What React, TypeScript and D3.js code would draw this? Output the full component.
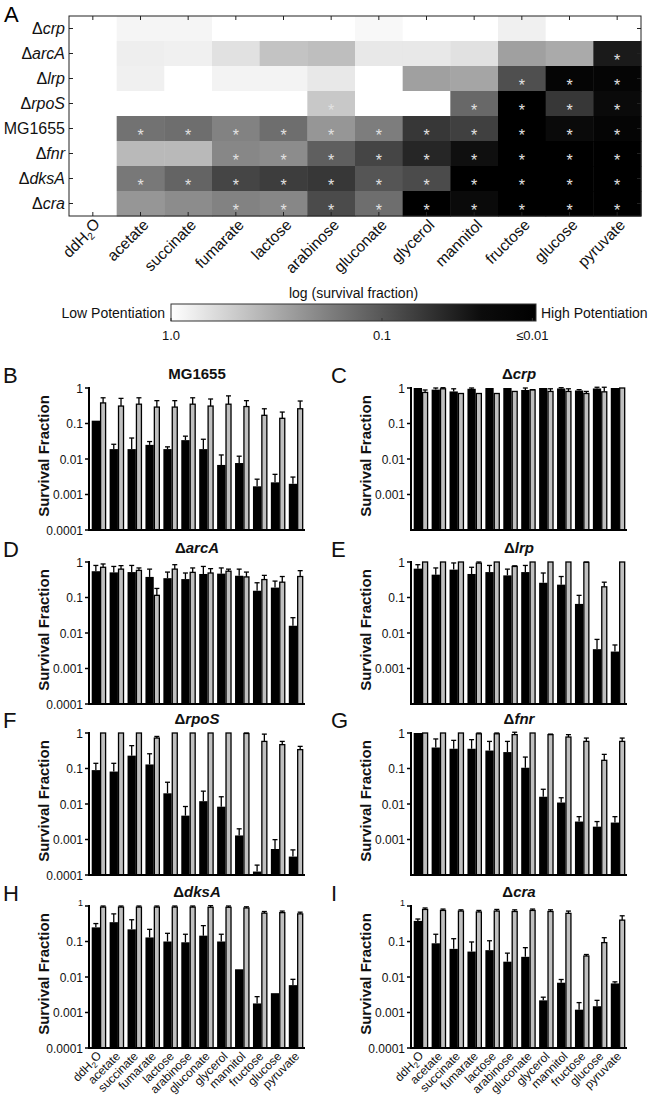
import React from "react";
import * as d3 from "d3";

const FONT = "'Liberation Sans', Arial, Helvetica, sans-serif";

const carbonSources = ["ddH2O", "acetate", "succinate", "fumarate", "lactose", "arabinose", "gluconate", "glycerol", "mannitol", "fructose", "glucose", "pyruvate"];
const strains = ["Δcrp", "ΔarcA", "Δlrp", "ΔrpoS", "MG1655", "Δfnr", "ΔdksA", "Δcra"];

// heatmap: survival fraction per strain (row) and carbon source (column)
const heatCrp = [1, 0.835, 0.835, 1, 1, 1, 0.88, 1, 1, 0.76, 1, 1];
const heatArcA = [1, 0.736, 0.76, 0.58, 0.34, 0.31, 0.66, 0.66, 0.58, 0.18, 0.215, 0.016];
const heatLrp = [1, 0.76, 1, 0.805, 0.805, 0.66, 1, 0.18, 0.197, 0.042, 0.011, 0.011];
const heatRpoS = [1, 1, 1, 1, 1, 0.37, 1, 1, 0.066, 0.01, 0.027, 0.012];
const heatMG = [1, 0.079, 0.073, 0.105, 0.073, 0.15, 0.095, 0.027, 0.032, 0.01, 0.012, 0.011];
const heatFnr = [1, 0.28, 0.28, 0.115, 0.125, 0.056, 0.035, 0.02, 0.013, 0.01, 0.01, 0.01];
const heatDksA = [1, 0.087, 0.061, 0.035, 0.03, 0.027, 0.046, 0.039, 0.01, 0.01, 0.01, 0.01];
const heatCra = [1, 0.15, 0.125, 0.105, 0.115, 0.039, 0.073, 0.01, 0.012, 0.01, 0.01, 0.01];

// significance stars (1 = star)
const starCrp = [0, 0, 0, 0, 0, 0, 0, 0, 0, 0, 0, 0];
const starArcA = [0, 0, 0, 0, 0, 0, 0, 0, 0, 0, 0, 1];
const starLrp = [0, 0, 0, 0, 0, 0, 0, 0, 0, 1, 1, 1];
const starRpoS = [0, 0, 0, 0, 0, 1, 0, 0, 1, 1, 1, 1];
const starMG = [0, 1, 1, 1, 1, 1, 1, 1, 1, 1, 1, 1];
const starFnr = [0, 0, 0, 1, 1, 1, 1, 1, 1, 1, 1, 1];
const starDksA = [0, 1, 1, 1, 1, 1, 1, 1, 1, 1, 1, 1];
const starCra = [0, 0, 0, 1, 1, 1, 1, 1, 1, 1, 1, 1];

const heatRows = [heatCrp, heatArcA, heatLrp, heatRpoS, heatMG, heatFnr, heatDksA, heatCra];
const starRows = [starCrp, starArcA, starLrp, starRpoS, starMG, starFnr, starDksA, starCra];

const colorbarTicks = [1, 0.1, 0.01];
const colorbarTickLabels = ["1.0", "0.1", "≤0.01"];

const yTicks = [1, 0.1, 0.01, 0.001, 0.0001];
const yTickLabels = ["1", "0.1", "0.01", "0.001", "0.0001"];

// bar panels: black = treated, gray = control (value and upper error)
const mgBlack = [0.12, 0.019, 0.019, 0.025, 0.019, 0.034, 0.019, 0.0068, 0.0077, 0.0017, 0.0022, 0.002];
const mgBlackErr = [0.12, 0.026, 0.039, 0.031, 0.022, 0.044, 0.036, 0.013, 0.012, 0.0027, 0.0037, 0.0031];
const mgGray = [0.38, 0.31, 0.35, 0.29, 0.29, 0.35, 0.31, 0.35, 0.3, 0.17, 0.14, 0.26];
const mgGrayErr = [0.53, 0.51, 0.53, 0.44, 0.44, 0.53, 0.49, 0.6, 0.44, 0.26, 0.21, 0.43];

const crpBlack = [1.0, 0.9, 0.8, 0.95, 1.0, 1.0, 0.88, 1.0, 0.97, 0.85, 0.97, 1.0];
const crpBlackErr = [1.0, 1.0, 0.95, 1.0, 1.0, 1.0, 1.0, 1.0, 1.02, 0.9, 1.05, 1.0];
const crpGray = [0.75, 0.95, 0.7, 0.7, 0.7, 0.8, 0.88, 0.8, 0.8, 0.7, 0.78, 1.0];
const crpGrayErr = [0.88, 1.02, 0.7, 0.7, 0.7, 0.8, 0.9, 0.95, 0.95, 0.8, 1.05, 1.0];

const arcBlack = [0.55, 0.51, 0.52, 0.38, 0.35, 0.33, 0.46, 0.47, 0.41, 0.155, 0.19, 0.016];
const arcBlackErr = [0.8, 0.75, 0.8, 0.63, 0.52, 0.49, 0.75, 0.68, 0.63, 0.26, 0.29, 0.027];
const arcGray = [0.71, 0.63, 0.58, 0.115, 0.63, 0.51, 0.49, 0.55, 0.38, 0.32, 0.27, 0.39];
const arcGrayErr = [0.88, 0.79, 0.68, 0.18, 0.84, 0.68, 0.65, 0.63, 0.52, 0.42, 0.39, 0.57];

const lrpBlack = [0.65, 0.44, 0.61, 0.46, 0.52, 0.42, 0.52, 0.26, 0.23, 0.066, 0.0035, 0.003];
const lrpBlackErr = [0.84, 0.68, 0.94, 0.71, 0.8, 0.63, 0.8, 0.49, 0.39, 0.115, 0.0066, 0.0046];
const lrpGray = [1, 1, 1, 0.93, 1, 0.75, 1, 1, 1, 0.98, 0.2, 1];
const lrpGrayErr = [1, 1, 1, 1, 1, 0.78, 1, 1, 1, 1, 0.27, 1];

const rpoBlack = [0.09, 0.082, 0.23, 0.13, 0.02, 0.0047, 0.012, 0.0084, 0.0013, 0.000125, 0.00054, 0.00033];
const rpoBlackErr = [0.14, 0.14, 0.44, 0.26, 0.041, 0.0085, 0.023, 0.016, 0.002, 0.00019, 0.00099, 0.00051];
const rpoGray = [1, 1, 1, 0.72, 1, 1, 1, 1, 0.97, 0.58, 0.47, 0.34];
const rpoGrayErr = [1, 1, 1, 0.8, 1, 1, 1, 1, 1, 0.93, 0.58, 0.42];

const fnrBlack = [1.0, 0.39, 0.36, 0.36, 0.32, 0.29, 0.105, 0.016, 0.011, 0.0032, 0.0023, 0.003];
const fnrBlackErr = [1.0, 0.68, 0.62, 0.65, 0.58, 0.58, 0.21, 0.026, 0.015, 0.0044, 0.0032, 0.0044];
const fnrGray = [1, 1, 1, 0.95, 0.95, 0.9, 1, 0.9, 0.77, 0.58, 0.17, 0.58];
const fnrGrayErr = [1, 1, 1, 1, 1, 1.05, 1, 0.93, 0.9, 0.72, 0.25, 0.72];

const dksBlack = [0.25, 0.35, 0.22, 0.13, 0.1, 0.095, 0.146, 0.1, 0.0165, 0.0018, 0.0035, 0.0059];
const dksBlackErr = [0.32, 0.6, 0.41, 0.22, 0.17, 0.16, 0.28, 0.16, 0.0165, 0.0028, 0.0035, 0.0086];
const dksGray = [0.93, 0.93, 0.93, 0.93, 0.93, 0.93, 0.92, 0.92, 0.88, 0.63, 0.65, 0.6];
const dksGrayErr = [1, 1, 1, 1, 1, 1, 1.02, 1, 0.95, 0.7, 0.72, 0.67];

const craBlack = [0.38, 0.089, 0.062, 0.052, 0.057, 0.027, 0.037, 0.0022, 0.0069, 0.0012, 0.0015, 0.0066];
const craBlackErr = [0.43, 0.16, 0.12, 0.097, 0.105, 0.047, 0.067, 0.0027, 0.0085, 0.0019, 0.0022, 0.0073];
const craGray = [0.8, 0.75, 0.72, 0.68, 0.72, 0.7, 0.75, 0.7, 0.62, 0.039, 0.093, 0.4];
const craGrayErr = [0.88, 0.82, 0.78, 0.75, 0.8, 0.78, 0.82, 0.78, 0.72, 0.043, 0.128, 0.53];

function StrainName({ name }: { name: string }) {
  if (name.startsWith("Δ")) {
    return (
      <>
        <tspan>Δ</tspan>
        <tspan fontStyle="italic">{name.slice(1)}</tspan>
      </>
    );
  }
  return <tspan>{name}</tspan>;
}

function SourceName({ name, sub }: { name: string; sub: number }) {
  if (name === "ddH2O") {
    return (
      <>
        <tspan>ddH</tspan>
        <tspan fontSize={sub} dy="0.3em">2</tspan>
        <tspan dy="-0.3em">O</tspan>
      </>
    );
  }
  return <tspan>{name}</tspan>;
}

function Heatmap() {
  const x0 = 69, x1 = 641, y0 = 16, y1 = 216;
  const hx = d3.scaleBand<string>().domain(carbonSources).range([x0, x1]);
  const hy = d3.scaleBand<string>().domain(strains).range([y0, y1]);
  const t = d3.scaleLog().domain([1, 0.01]).range([0, 1]).clamp(true);
  const color = (v: number) => d3.interpolateRgb("#ffffff", "#000000")(t(v));
  const bw = hx.bandwidth(), bh = hy.bandwidth();
  return (
    <g>
      <text x={4} y={22} fontSize={22} fontFamily={FONT}>A</text>
      {strains.map((s, i) =>
        carbonSources.map((c, j) => (
          <rect key={s + c} x={hx(c)!} y={hy(s)!} width={bw + 0.5} height={bh + 0.5} fill={color(heatRows[i][j])} />
        ))
      )}
      {strains.map((s, i) =>
        carbonSources.map((c, j) =>
          starRows[i][j] ? (
            <text key={"s" + s + c} x={hx(c)! + bw / 2} y={hy(s)! + bh / 2 + 12} textAnchor="middle" fontSize={16} fill="#e2e2e2" fontFamily={FONT}>*</text>
          ) : null
        )
      )}
      <rect x={x0} y={y0} width={x1 - x0} height={y1 - y0} fill="none" stroke="#222" strokeWidth={1} />
      {carbonSources.map((c) => {
        const cx = hx(c)! + bw / 2;
        return (
          <g key={"t" + c}>
            <line x1={cx} x2={cx} y1={y0} y2={y0 + 4} stroke="#222" />
            <line x1={cx} x2={cx} y1={y1} y2={y1 - 4} stroke="#222" />
            <text transform={`translate(${cx + 9},${y1 + 10}) rotate(-45)`} textAnchor="end" fontSize={15.5} fontFamily={FONT} fill="#111">
              <SourceName name={c} sub={10} />
            </text>
          </g>
        );
      })}
      {strains.map((s) => {
        const cy = hy(s)! + bh / 2;
        return (
          <g key={"r" + s}>
            <line x1={x0} x2={x0 + 4} y1={cy} y2={cy} stroke="#222" />
            <line x1={x1} x2={x1 - 4} y1={cy} y2={cy} stroke="#222" />
            <text x={x0 - 4} y={cy + 5.5} textAnchor="end" fontSize={16} fontFamily={FONT} fill="#111">
              <StrainName name={s} />
            </text>
          </g>
        );
      })}
    </g>
  );
}

function Colorbar() {
  const cx0 = 171, cx1 = 536, cy0 = 304, cy1 = 321;
  const pos = d3.scaleLinear().domain([0, 1]).range([cx0, cx1]);
  const tickPos = [0, 0.578, 0.99];
  return (
    <g fontFamily={FONT}>
      <defs>
        <linearGradient id="cbar" x1="0" x2="1" y1="0" y2="0">
          <stop offset="0" stopColor="#ffffff" />
          <stop offset="0.45" stopColor="#7a7a7a" />
          <stop offset="0.85" stopColor="#0c0c0c" />
          <stop offset="1" stopColor="#000000" />
        </linearGradient>
      </defs>
      <text x={(cx0 + cx1) / 2} y={298} textAnchor="middle" fontSize={14} fill="#111">log (survival fraction)</text>
      <rect x={cx0} y={cy0} width={cx1 - cx0} height={cy1 - cy0} fill="url(#cbar)" stroke="#333" strokeWidth={1} />
      <text x={cx0 - 6} y={318} textAnchor="end" fontSize={14} fill="#111">Low Potentiation</text>
      <text x={cx1 + 5} y={318} textAnchor="start" fontSize={14} fill="#111">High Potentiation</text>
      {colorbarTicks.map((v, i) => (
        <g key={v}>
          <line x1={pos(tickPos[i])} x2={pos(tickPos[i])} y1={cy1} y2={cy1 - 3} stroke="#333" />
          <text x={pos(tickPos[i])} y={340} textAnchor="middle" fontSize={13} fill="#111">{colorbarTickLabels[i]}</text>
        </g>
      ))}
    </g>
  );
}

type PanelProps = {
  x0: number; x1: number; yTop: number; letter: string; letterX: number; title: string;
  black: number[]; blackErr: number[]; gray: number[]; grayErr: number[];
  xLabels?: boolean; smallOne?: boolean; showBottom?: boolean; labelX: number;
};

function BarPanel(p: PanelProps) {
  const yb = p.yTop + 142;
  const y = d3.scaleLog().domain([1e-4, 1]).range([yb, p.yTop]);
  const x = d3.scaleBand<string>().domain(carbonSources).range([p.x0 + 1, p.x1]);
  const bwB = 8.3, bwG = 5;
  const cap = 2.5;
  return (
    <g fontFamily={FONT}>
      <text x={p.letterX} y={p.yTop - 5} fontSize={22} fill="#111">{p.letter}</text>
      <text x={(p.x0 + p.x1) / 2} y={p.yTop - 9} textAnchor="middle" fontSize={15} fontWeight="bold" fill="#111">
        <StrainName name={p.title} />
      </text>
      <text transform={`translate(${p.labelX},${p.yTop + 68}) rotate(-90)`} textAnchor="middle" fontSize={15} fontWeight="bold" fill="#111">Survival Fraction</text>
      {carbonSources.map((c, i) => {
        const bx = x(c)! + 1.7;
        const gx = x(c)! + 10.6;
        const vb = p.black[i], eb = p.blackErr[i], vg = p.gray[i], eg = p.grayErr[i];
        const bcx = bx + bwB / 2, gcx = gx + bwG / 2;
        return (
          <g key={c}>
            {eb > vb && (
              <g stroke="#000" strokeWidth={1.3}>
                <line x1={bcx} x2={bcx} y1={y(vb)} y2={y(eb)} />
                <line x1={bcx - cap} x2={bcx + cap} y1={y(eb)} y2={y(eb)} />
              </g>
            )}
            <rect x={bx} y={y(vb)} width={bwB} height={yb - y(vb)} fill="#000" />
            {eg > vg && (
              <g stroke="#000" strokeWidth={1.3}>
                <line x1={gcx} x2={gcx} y1={y(vg)} y2={y(eg)} />
                <line x1={gcx - cap} x2={gcx + cap} y1={y(eg)} y2={y(eg)} />
              </g>
            )}
            <rect x={gx} y={y(vg)} width={bwG} height={yb - y(vg)} fill="#bfbfbf" stroke="#000" strokeWidth={1.3} />
            {p.xLabels && (
              <text transform={`translate(${x(c)! + x.bandwidth() / 2 + 4},${yb + 9}) rotate(-45)`} textAnchor="end" fontSize={12} fill="#111">
                <SourceName name={c} sub={8} />
              </text>
            )}
          </g>
        );
      })}
      <line x1={p.x0} x2={p.x0} y1={p.yTop - 1} y2={yb + 1} stroke="#000" strokeWidth={2} />
      <line x1={p.x0 - 1} x2={p.x1} y1={yb} y2={yb} stroke="#000" strokeWidth={2} />
      {yTicks.map((v, i) => {
        if (v === 1e-4 && p.showBottom === false) return null;
        const small = v === 1 && p.smallOne;
        return (
          <g key={v}>
            <line x1={p.x0 - 4} x2={p.x0} y1={y(v)} y2={y(v)} stroke="#000" strokeWidth={1.5} />
            <text x={p.x0 - 6} y={y(v) + (small ? 0 : 4.5)} textAnchor="end" fontSize={small ? 9 : 12} fill="#111">{yTickLabels[i]}</text>
          </g>
        );
      })}
    </g>
  );
}

export default function App() {
  const L = { x0: 89, x1: 305, letterX: 3, labelX: 49 };
  const R = { x0: 411, x1: 627, letterX: 331, labelX: 371 };
  return (
    <svg width={650} height={1099} style={{ position: "absolute", left: 0, top: 0, background: "#fff" }} fontFamily={FONT}>
      <rect width={650} height={1099} fill="#fff" />
      <Heatmap />
      <Colorbar />
      <BarPanel {...L} yTop={388} letter="B" title="MG1655" black={mgBlack} blackErr={mgBlackErr} gray={mgGray} grayErr={mgGrayErr} />
      <BarPanel {...R} yTop={388} letter="C" title="Δcrp" black={crpBlack} blackErr={crpBlackErr} gray={crpGray} grayErr={crpGrayErr} showBottom={false} />
      <BarPanel {...L} yTop={562} letter="D" title="ΔarcA" black={arcBlack} blackErr={arcBlackErr} gray={arcGray} grayErr={arcGrayErr} />
      <BarPanel {...R} yTop={562} letter="E" title="Δlrp" black={lrpBlack} blackErr={lrpBlackErr} gray={lrpGray} grayErr={lrpGrayErr} showBottom={false} />
      <BarPanel {...L} yTop={733} letter="F" title="ΔrpoS" black={rpoBlack} blackErr={rpoBlackErr} gray={rpoGray} grayErr={rpoGrayErr} />
      <BarPanel {...R} yTop={733} letter="G" title="Δfnr" black={fnrBlack} blackErr={fnrBlackErr} gray={fnrGray} grayErr={fnrGrayErr} showBottom={false} />
      <BarPanel {...L} yTop={906} letter="H" title="ΔdksA" black={dksBlack} blackErr={dksBlackErr} gray={dksGray} grayErr={dksGrayErr} xLabels smallOne />
      <BarPanel {...R} yTop={906} letter="I" title="Δcra" black={craBlack} blackErr={craBlackErr} gray={craGray} grayErr={craGrayErr} xLabels smallOne />
    </svg>
  );
}
